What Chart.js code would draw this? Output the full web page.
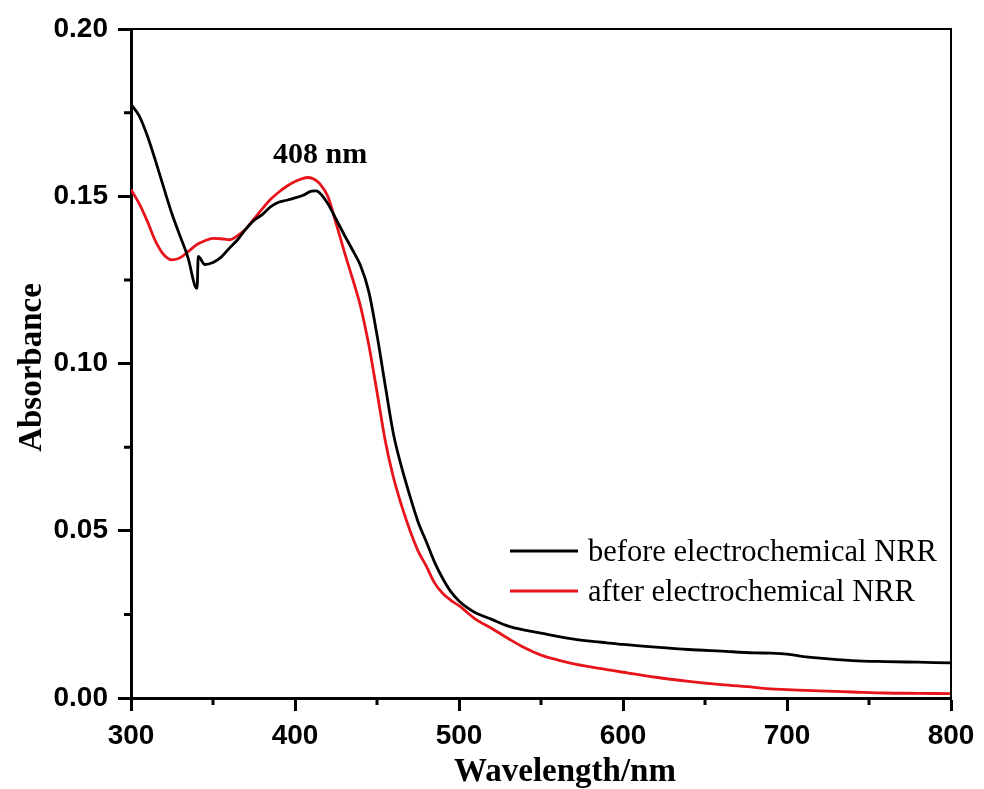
<!DOCTYPE html>
<html>
<head>
<meta charset="utf-8">
<script src="https://cdn.jsdelivr.net/npm/chart.js@4/dist/chart.umd.min.js"></script>
<style>
  html, body { margin: 0; padding: 0; background: #ffffff; }
  #wrap { width: 984px; height: 789px; position: relative; }
</style>
</head>
<body>
<div id="wrap"><canvas id="c"></canvas></div>
<script>
// UV-vis absorbance spectra, before and after electrochemical NRR
const seriesLabels = ['before electrochemical NRR', 'after electrochemical NRR'];
const seriesColors = ['#000000', '#e8141b'];

const wavelengthBefore = [300, 305, 310, 315, 320, 325, 330, 335, 339, 340.3, 341, 345, 350, 355, 360, 365, 370, 375, 380, 385, 390, 395, 400, 405, 410, 413, 416, 420, 425, 430, 435, 440, 445, 450, 455, 460, 465, 470, 475, 480, 485, 490, 495, 500, 505, 510, 520, 530, 540, 550, 560, 570, 580, 590, 600, 620, 640, 660, 680, 690, 700, 710, 720, 740, 760, 780, 800];
const absorbanceBefore = [0.1775, 0.1740, 0.1680, 0.1605, 0.1525, 0.1447, 0.1380, 0.1312, 0.1232, 0.1225, 0.1320, 0.1296, 0.1302, 0.1318, 0.1345, 0.1370, 0.1402, 0.1428, 0.1445, 0.1468, 0.1482, 0.1488, 0.1495, 0.1503, 0.1515, 0.1516, 0.1505, 0.1478, 0.1432, 0.1385, 0.1340, 0.1292, 0.1215, 0.1085, 0.0935, 0.0790, 0.0690, 0.0605, 0.0527, 0.0468, 0.0407, 0.0358, 0.0318, 0.0290, 0.0270, 0.0255, 0.0235, 0.0215, 0.0203, 0.0194, 0.0184, 0.0176, 0.0170, 0.0165, 0.0160, 0.0152, 0.0145, 0.0140, 0.0135, 0.0134, 0.0131, 0.0124, 0.0119, 0.0112, 0.0109, 0.0107, 0.0105];

const wavelengthAfter = [300, 305, 310, 315, 320, 325, 330, 335, 340, 345, 350, 355, 360, 365, 370, 375, 380, 385, 390, 395, 400, 404, 408, 412, 415, 420, 425, 430, 435, 440, 445, 450, 455, 460, 465, 470, 475, 480, 485, 490, 495, 500, 510, 520, 530, 540, 550, 560, 570, 580, 590, 600, 620, 640, 660, 680, 690, 700, 720, 740, 760, 780, 800];
const absorbanceAfter = [0.1520, 0.1478, 0.1425, 0.1365, 0.1325, 0.1310, 0.1316, 0.1335, 0.1355, 0.1367, 0.1374, 0.1373, 0.1370, 0.1382, 0.1402, 0.1432, 0.1462, 0.1490, 0.1512, 0.1530, 0.1544, 0.1552, 0.1556, 0.1550, 0.1538, 0.1500, 0.1420, 0.1335, 0.1255, 0.1170, 0.1055, 0.0915, 0.0770, 0.0660, 0.0575, 0.0502, 0.0440, 0.0395, 0.0345, 0.0313, 0.0292, 0.0276, 0.0236, 0.0208, 0.0178, 0.0150, 0.0128, 0.0114, 0.0102, 0.0093, 0.0085, 0.0077, 0.0062, 0.0050, 0.0040, 0.0032, 0.0027, 0.0025, 0.0021, 0.0018, 0.0015, 0.0014, 0.0013];

const xTicks = [300, 400, 500, 600, 700, 800];
const yTicks = [0.00, 0.05, 0.10, 0.15, 0.20];
const xMinorTicks = [350, 450, 550, 650, 750];
const yMinorTicks = [0.025, 0.075, 0.125, 0.175];

const peakWavelength = 408;
const peakLabel = peakWavelength + ' nm';
const xTitle = 'Wavelength/nm';
const yTitle = 'Absorbance';

const toPoints = (xs, ys) => xs.map((x, i) => ({ x: x, y: ys[i] }));

const SERIF = '"Liberation Serif", "Times New Roman", Times, serif';
const SANS = '"Liberation Sans", Arial, Helvetica, sans-serif';

// frame, minor ticks, axis titles, peak label and legend
const decorations = {
  id: 'decorations',
  afterDraw(chart) {
    const { ctx, chartArea: a, scales: { x, y } } = chart;
    ctx.save();
    ctx.strokeStyle = '#000';
    // top and right edges of the box
    ctx.lineWidth = 2;
    ctx.beginPath();
    ctx.moveTo(a.left, a.top);
    ctx.lineTo(a.right, a.top);
    ctx.lineTo(a.right, a.bottom);
    ctx.stroke();
    // minor ticks
    ctx.lineWidth = 3;
    ctx.beginPath();
    xMinorTicks.forEach(v => {
      const px = x.getPixelForValue(v);
      ctx.moveTo(px, a.bottom);
      ctx.lineTo(px, a.bottom + 7);
    });
    yMinorTicks.forEach(v => {
      const py = y.getPixelForValue(v);
      ctx.moveTo(a.left, py);
      ctx.lineTo(a.left - 7, py);
    });
    ctx.stroke();

    // axis titles
    ctx.fillStyle = '#000';
    ctx.font = 'bold 33px ' + SERIF;
    ctx.textAlign = 'center';
    ctx.textBaseline = 'alphabetic';
    ctx.fillText(xTitle, (a.left + a.right) / 2 + 24, 781);
    ctx.save();
    ctx.translate(41, (a.top + a.bottom) / 2 + 4);
    ctx.rotate(-Math.PI / 2);
    ctx.fillText(yTitle, 0, 0);
    ctx.restore();

    // peak annotation
    ctx.font = 'bold 30px ' + SERIF;
    ctx.textAlign = 'center';
    ctx.fillText(peakLabel, x.getPixelForValue(peakWavelength) + 12, 163);

    // legend
    ctx.font = '30.5px ' + SERIF;
    ctx.textAlign = 'left';
    const rows = [551, 591];
    chart.data.datasets.forEach((ds, i) => {
      const ly = rows[i];
      ctx.strokeStyle = ds.borderColor;
      ctx.lineWidth = 3;
      ctx.beginPath();
      ctx.moveTo(510, ly);
      ctx.lineTo(578, ly);
      ctx.stroke();
      ctx.fillStyle = '#000';
      ctx.fillText(ds.label, 588, ly + 10);
    });
    ctx.restore();
  }
};

new Chart(document.getElementById('c'), {
  type: 'line',
  data: {
    datasets: [
      {
        label: seriesLabels[0],
        data: toPoints(wavelengthBefore, absorbanceBefore),
        borderColor: seriesColors[0],
        borderWidth: 2.8,
        pointRadius: 0,
        cubicInterpolationMode: 'monotone'
      },
      {
        label: seriesLabels[1],
        data: toPoints(wavelengthAfter, absorbanceAfter),
        borderColor: seriesColors[1],
        borderWidth: 2.8,
        pointRadius: 0,
        cubicInterpolationMode: 'monotone'
      }
    ]
  },
  options: {
    responsive: true,
    maintainAspectRatio: false,
    animation: false,
    layout: { padding: { top: 29, right: 33, left: 0, bottom: 0 } },
    plugins: { legend: { display: false }, tooltip: { enabled: false } },
    scales: {
      x: {
        type: 'linear',
        min: 300,
        max: 800,
        afterFit: s => { s.height = 91; },
        afterBuildTicks: s => { s.ticks = xTicks.map(v => ({ value: v })); },
        ticks: {
          color: '#000',
          font: { family: SANS, weight: 'bold', size: 28 },
          padding: 8,
          maxRotation: 0,
          callback: v => String(v)
        },
        grid: { drawOnChartArea: false, drawTicks: true, tickLength: 13, tickWidth: 3, tickColor: '#000' },
        border: { display: true, color: '#000', width: 3 }
      },
      y: {
        type: 'linear',
        min: 0,
        max: 0.2,
        afterFit: s => { s.width = 131; },
        afterBuildTicks: s => { s.ticks = yTicks.map(v => ({ value: v })); },
        ticks: {
          color: '#000',
          font: { family: SANS, weight: 'bold', size: 28 },
          padding: 10,
          callback: v => Number(v).toFixed(2)
        },
        grid: { drawOnChartArea: false, drawTicks: true, tickLength: 13, tickWidth: 3, tickColor: '#000' },
        border: { display: true, color: '#000', width: 3 }
      }
    }
  },
  plugins: [decorations]
});
</script>
</body>
</html>
